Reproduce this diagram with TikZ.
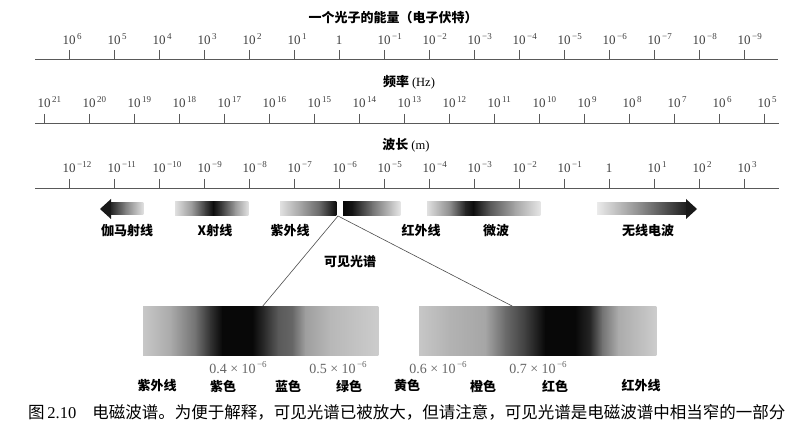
\documentclass[tikz,border=0pt]{standalone}
\usepackage{fontspec}
\setmainfont{Liberation Serif}
\newfontfamily\cjk{Noto Sans CJK SC}
\newcommand\gradbar[3]{\foreach \xa/\xb/\ca/\cb in {#3}{\shade[left color=black!\ca, right color=black!\cb] (\xa,#1) rectangle ({\xb+0.4},#2);}}
\newcommand\supx[1]{\raisebox{0.42em}{\fontsize{9}{10}\selectfont\,#1}}
\begin{document}
\begin{tikzpicture}[x=1pt,y=-1pt]
\useasboundingbox (0,0) rectangle (805,435);
\tikzset{
  axisline/.style={draw=black!65, line width=0.7pt},
  tickmark/.style={draw=black!65, line width=0.7pt},
  ticklabel/.style={font=\fontsize{13}{14}\selectfont, text=black!75, anchor=base west, inner sep=0pt, xshift=-6.5pt},
  onelabel/.style={font=\fontsize{13}{14}\selectfont, text=black!75, anchor=base, inner sep=0pt},
  titlelabel/.style={font=\cjk\bfseries\fontsize{13}{14}\selectfont, inner sep=0pt},
  bandlabel/.style={font=\cjk\bfseries\fontsize{13}{14}\selectfont, inner sep=0pt},
  valuelabel/.style={font=\fontsize{14}{15}\selectfont, text=black!60, anchor=base, inner sep=0pt},
  connector/.style={draw=black!70, line width=0.6pt}
}
% ---------- energy axis ----------
\node[titlelabel] (etitle) at (393,18) {一个光子的能量（电子伏特）};
\draw[axisline] (35,59) -- (778,59);
\foreach \i in {0,...,15}{\draw[tickmark] (69+45*\i,50) -- (69+45*\i,59);}
\foreach \i/\e in {0/6,1/5,2/4,3/3,4/2,5/1,7/−1,8/−2,9/−3,10/−4,11/−5,12/−6,13/−7,14/−8,15/−9}{
  \node[ticklabel] (e\i) at (69+45*\i,45) {10\supx{\e}};}
\node[onelabel] (e6) at (339,45) {1};
% ---------- frequency axis ----------
\node[titlelabel] (ftitle) at (409,82) {频率 {\normalfont\fontsize{12.5}{13}\selectfont (Hz)}};
\draw[axisline] (35,123) -- (779,123);
\foreach \i in {0,...,16}{\draw[tickmark] (44+45*\i,114) -- (44+45*\i,123);}
\foreach \i in {0,...,16}{
  \pgfmathtruncatemacro\ex{21-\i}
  \node[ticklabel] (f\i) at (44+45*\i,108) {10\supx{\ex}};}
% ---------- wavelength axis ----------
\node[titlelabel] (wtitle) at (406,145) {波长 {\normalfont\fontsize{12.5}{13}\selectfont (m)}};
\draw[axisline] (35,188) -- (779,188);
\foreach \i in {0,...,15}{\draw[tickmark] (69+45*\i,179) -- (69+45*\i,188);}
\foreach \i/\e in {0/−12,1/−11,2/−10,3/−9,4/−8,5/−7,6/−6,7/−5,8/−4,9/−3,10/−2,11/−1,13/1,14/2,15/3}{
  \node[ticklabel] (w\i) at (69+45*\i,173) {10\supx{\e}};}
\node[onelabel] (w12) at (609,173) {1};
% ---------- bands ----------
% gamma arrow
\fill[black!90] (100,209) -- (111,199) -- (111,219) -- cycle;
\gradbar{203}{215}{111/125/85/50, 125/143/50/12}
% X-ray
\gradbar{202}{216}{175/192/12/40, 192/205/40/75, 205/213/75/95, 213/222/95/75, 222/235/75/40, 235/248/40/12}
% UV
\gradbar{202}{216}{280/300/12/35, 300/320/35/60, 320/336/60/95}
% visible (small)
\gradbar{202}{216}{343/352/97/92, 352/372/92/55, 372/400/55/10}
% IR / microwave
\gradbar{202}{216}{427/450/12/45, 450/465/45/85, 465/473/85/95, 473/490/95/65, 490/515/65/35, 515/540/35/10}
% radio arrow
\gradbar{203}{215}{597/640/8/45, 640/686/45/88}
\fill[black!90] (686,199) -- (697,209) -- (686,219) -- cycle;
\node[bandlabel] (gamma) at (127,231) {伽马射线};
\node[bandlabel] (xray) at (215,231) {X射线};
\node[bandlabel] (uv) at (290,231) {紫外线};
\node[bandlabel] (ir) at (421,231) {红外线};
\node[bandlabel] (micro) at (496,231) {微波};
\node[bandlabel] (radio) at (648,231) {无线电波};
% ---------- visible spectrum zoom ----------
\coordinate (vis) at (338,216);
\coordinate (visL) at (262,307);
\coordinate (visR) at (514,307);
\draw[connector] (visL) -- (vis) -- (visR);
\node[bandlabel] (vislabel) at (350,262) {可见光谱};
\gradbar{307}{355}{143/170/22/33, 170/195/33/55, 195/210/55/80, 210/222/80/97, 222/252/97/97, 252/265/97/82, 265/278/82/65, 278/292/65/60, 292/305/60/38, 305/330/38/28, 330/378/28/20}
\gradbar{307}{355}{419/450/22/30, 450/485/30/35, 485/505/35/58, 505/525/58/75, 525/545/75/97, 545/575/97/97, 575/590/97/85, 590/602/85/55, 602/618/55/33, 618/656/33/20}
\node[valuelabel] (v4) at (238,373) {0.4 × 10\supx{−6}};
\node[valuelabel] (v5) at (338,373) {0.5 × 10\supx{−6}};
\node[valuelabel] (v6) at (438,373) {0.6 × 10\supx{−6}};
\node[valuelabel] (v7) at (538,373) {0.7 × 10\supx{−6}};
\node[bandlabel] (c1) at (157,386) {紫外线};
\node[bandlabel] (c2) at (223,386) {紫色};
\node[bandlabel] (c3) at (288,386) {蓝色};
\node[bandlabel] (c4) at (349,386) {绿色};
\node[bandlabel] (c5) at (407,386) {黄色};
\node[bandlabel] (c6) at (483,386) {橙色};
\node[bandlabel] (c7) at (555,386) {红色};
\node[bandlabel] (c8) at (641,386) {红外线};
% ---------- caption ----------
\node[anchor=west, inner sep=0pt, font=\fontsize{16.5}{18}\selectfont] (caption) at (28,412)
  {{\cjk 图}\,2.10\hspace{16pt}{\cjk 电磁波谱。为便于解释，可见光谱已被放大，但请注意，可见光谱是电磁波谱中相当窄的一部分}};
\end{tikzpicture}
\end{document}
